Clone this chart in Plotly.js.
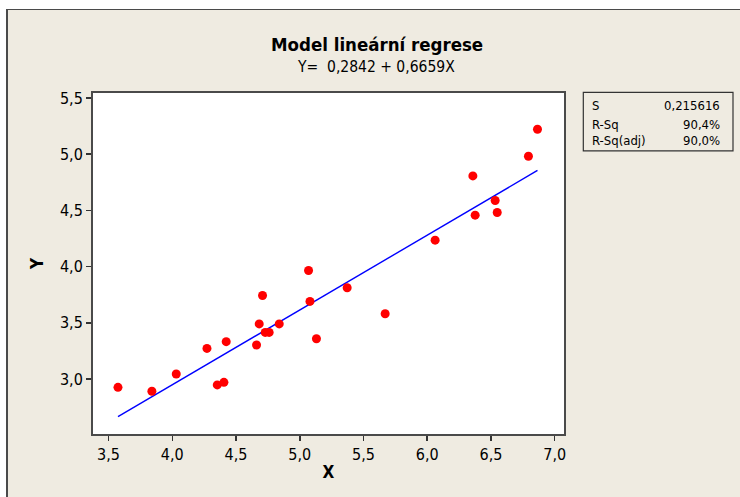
<!DOCTYPE html>
<html>
<head>
<meta charset="utf-8">
<script src="https://cdn.plot.ly/plotly-3.0.1.min.js"></script>
<style>
  html, body { margin: 0; padding: 0; background: #ffffff; width: 740px; height: 497px; overflow: hidden; }
  #frame { position: absolute; left: 6px; top: 9px; width: 734px; height: 488px; box-sizing: border-box;
           border-left: 2px solid #4a4a4a; border-top: 1px solid #4a4a4a; background: #EFEBE1; }
  #plot { position: absolute; left: 8px; top: 11px; width: 732px; height: 486px; }
</style>
</head>
<body>
<div id="frame"></div>
<div id="plot"></div>
<script>
// Data
const xValues = [3.574, 3.840, 4.031, 4.272, 4.353, 4.405, 4.423, 4.661, 4.682, 4.708, 4.729, 4.760, 4.839,
                 5.069, 5.080, 5.131, 5.372, 5.670, 6.062, 6.358, 6.376, 6.533, 6.549, 6.794, 6.865];
const yValues = [2.925, 2.890, 3.044, 3.272, 2.947, 2.970, 3.332, 3.302, 3.490, 3.743, 3.414, 3.414, 3.490,
                 3.965, 3.690, 3.358, 3.812, 3.580, 4.235, 4.807, 4.458, 4.588, 4.481, 4.982, 5.222];
const intercept = 0.2842;
const slope = 0.6659;
const titleText = "Model lineární regrese";
const subtitleText = "Y=\u00a0 0,2842 + 0,6659X";
const statLabels = ["S", "R-Sq", "R-Sq(adj)"];
const statValues = ["0,215616", "90,4%", "90,0%"];
const xTicks = [3.5, 4.0, 4.5, 5.0, 5.5, 6.0, 6.5, 7.0];
const yTicks = [3.0, 3.5, 4.0, 4.5, 5.0, 5.5];

// fitted line through the data x values
const fitX = xValues.slice().sort((a, b) => a - b);
const fitY = fitX.map(x => intercept + slope * x);

const FONT = "DejaVu Sans Condensed, DejaVu Sans, Liberation Sans, sans-serif";

const traces = [
  { x: fitX, y: fitY, mode: "lines", type: "scatter", line: { color: "#0000FF", width: 1.4 },
    hoverinfo: "skip", showlegend: false },
  { x: xValues, y: yValues, mode: "markers", type: "scatter",
    marker: { color: "#FF0000", size: 9, line: { width: 0 } }, showlegend: false }
];

const rowY = [0.9628, 0.909, 0.860];
const annotations = [
  { text: "<b>" + titleText + "</b>", xref: "paper", yref: "paper", x: 0.6023, y: 1.1408,
    xanchor: "center", yanchor: "middle", showarrow: false, font: { family: FONT, size: 18.5, color: "#000" } },
  { text: subtitleText, xref: "paper", yref: "paper", x: 0.601, y: 1.0748,
    xanchor: "center", yanchor: "middle", showarrow: false, font: { family: FONT, size: 15.5, color: "#000" } }
];
statLabels.forEach((lab, i) => {
  annotations.push({ text: lab, xref: "paper", yref: "paper", x: 1.0552, y: rowY[i], xanchor: "left",
    yanchor: "middle", showarrow: false, font: { family: FONT, size: 13, color: "#000" } });
  annotations.push({ text: statValues[i], xref: "paper", yref: "paper", x: 1.3355, y: rowY[i], xanchor: "right",
    yanchor: "middle", showarrow: false, font: { family: FONT, size: 13, color: "#000" } });
});

const layout = {
  width: 732, height: 486,
  margin: { l: 85, r: 176, t: 82, b: 63, pad: 0 },
  paper_bgcolor: "#EFEBE1",
  plot_bgcolor: "#FFFFFF",
  separators: ", ",
  font: { family: FONT, size: 16, color: "#000" },
  xaxis: {
    range: [3.378, 7.073], tickvals: xTicks, tickformat: ".1f",
    showgrid: false, zeroline: false, showline: true, mirror: true, linecolor: "#4a4a4a", linewidth: 2,
    ticks: "outside", ticklen: 5, tickwidth: 1.5, tickcolor: "#333",
    tickfont: { family: FONT, size: 16, color: "#000" },
    title: { text: "<b>X</b>", font: { family: FONT, size: 17, color: "#000" }, standoff: 3 }
  },
  yaxis: {
    range: [2.51, 5.545], tickvals: yTicks, tickformat: ".1f",
    showgrid: false, zeroline: false, showline: true, mirror: true, linecolor: "#4a4a4a", linewidth: 2,
    ticks: "outside", ticklen: 5, tickwidth: 1.5, tickcolor: "#333",
    tickfont: { family: FONT, size: 16, color: "#000" },
    title: { text: "<b>Y</b>", font: { family: FONT, size: 17, color: "#000" }, standoff: 12 }
  },
  shapes: [
    { type: "rect", xref: "paper", yref: "paper", x0: 1.041, x1: 1.3588, y0: 0.830, y1: 1.002,
      line: { color: "#333", width: 1.2 }, fillcolor: "rgba(0,0,0,0)" }
  ],
  annotations: annotations,
  showlegend: false
};

Plotly.newPlot("plot", traces, layout, { displayModeBar: false, staticPlot: true });
</script>
</body>
</html>
